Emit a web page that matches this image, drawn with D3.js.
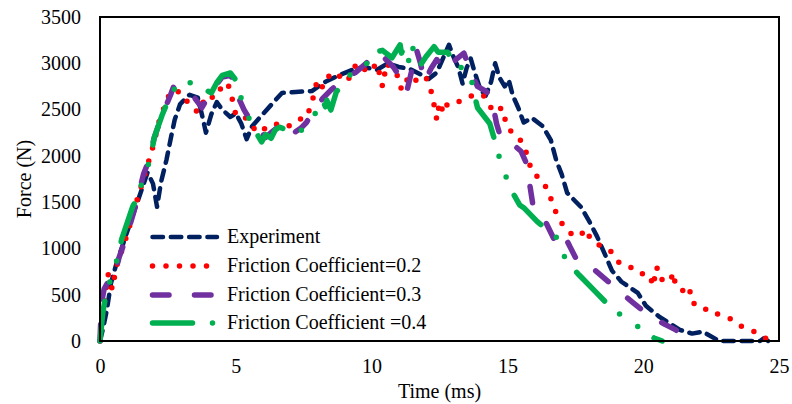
<!DOCTYPE html>
<html>
<head>
<meta charset="utf-8">
<script src="https://cdn.jsdelivr.net/npm/d3@7"></script>
<style>
  body { margin: 0; background: #fff; }
  text { font-family: "Liberation Serif", "Times New Roman", serif; fill: #000; }
</style>
</head>
<body>
<div id="chart"></div>
<script>
// data (time in ms, force in N)
var experiment = [
  [0,0],[0.1,120],[0.25,330],[0.4,620],[0.6,830],[1.0,1180],[1.4,1520],[1.75,1820],
  [1.95,1700],[2.1,1450],[2.25,1720],[2.45,1960],[2.6,2180],[2.75,2390],[2.95,2560],
  [3.3,2660],[3.6,2630],[3.75,2450],[3.9,2250],[4.1,2450],[4.3,2580],[4.5,2500],
  [4.8,2420],[5.0,2460],[5.2,2350],[5.4,2180],[5.6,2320],[5.9,2420],[6.3,2550],
  [6.7,2680],[7.2,2690],[7.8,2700],[8.3,2800],[8.8,2870],[9.3,2930],[9.7,2960],
  [10.2,2930],[10.6,3000],[11.0,2960],[11.4,2940],[11.8,2880],[12.1,2830],[12.4,2900],
  [12.7,3100],[12.85,3200],[13.0,3080],[13.2,2950],[13.35,2780],[13.5,2950],[13.65,3050],
  [13.8,2900],[14.0,2720],[14.2,2650],[14.4,2800],[14.55,3000],[14.7,2850],[14.9,2750],
  [15.05,2820],[15.2,2650],[15.4,2520],[15.6,2360],[15.9,2410],[16.3,2320],[16.6,2170],
  [16.8,1950],[17.0,1800],[17.2,1600],[17.7,1450],[18.0,1300],[18.3,1130],[18.6,930],
  [18.85,760],[19.2,640],[19.8,520],[20.1,380],[20.6,260],[21.35,120],[21.8,80],
  [22.2,100],[22.8,0],[23.5,0],[24.3,0],[24.45,30],[24.6,0]
];

var friction02 = [
  [0,0],[0.1,300],[0.3,720],[0.45,560],[0.6,800],[1.0,1150],[1.4,1560],[1.55,1700],
  [1.95,2100],[2.2,2400],[2.6,2700],[2.95,2690],[3.2,2590],[3.6,2470],[3.8,2580],
  [4.0,2660],[4.2,2620],[4.5,2750],[4.7,2790],[4.9,2580],[5.0,2440],[5.3,2430],
  [5.8,2250],[6.4,2350],[6.9,2310],[7.25,2390],[7.6,2410],[7.8,2570],[8.0,2820],
  [8.2,2740],[8.5,2900],[8.9,2850],[9.1,2800],[9.45,3000],[9.9,2900],[10.2,3000],
  [10.4,2750],[10.55,3000],[11.0,2850],[11.1,2710],[11.4,2870],[11.7,2800],[12.0,2850],
  [12.2,2690],[12.3,2550],[12.4,2390],[12.5,2580],[12.65,2460],[12.8,2570],[13.1,2580],
  [13.4,2600],[13.75,2660],[14.1,2660],[14.5,2470],[14.8,2520],[15.0,2300],[15.4,2200],
  [15.6,2120],[15.7,2030],[15.9,1830],[16.2,1750],[16.45,1650],[16.65,1500],[16.8,1380],
  [17.05,1250],[17.4,1145],[17.7,1135],[17.85,1210],[18.1,1090],[18.5,1015],[18.85,960],
  [19.1,850],[19.4,830],[19.8,735],[20.25,710],[20.36,590],[20.5,800],[20.6,670],
  [21.0,640],[21.1,740],[21.2,590],[21.6,520],[21.7,570],[21.8,410],[22.2,380],
  [22.4,310],[22.75,290],[23.2,240],[23.6,160],[24.1,100],[24.5,30],[24.95,0]
];

var friction03 = [
  [0,0],[0.05,400],[0.15,560],[0.3,640],[0.5,660],[0.7,900],[1.0,1150],[1.2,1350],
  [1.4,1560],[1.6,1800],[1.8,1950],[2.0,2200],[2.3,2450],[2.6,2660],[2.7,2740],
  [2.85,2700],[3.2,2620],[3.5,2620],[3.6,2580],[3.75,2520],[4.1,2700],[4.5,2850],
  [4.8,2870],[5.0,2780],[5.1,2630],[5.3,2500],[5.5,2400],[5.8,2300],[6.1,2200],
  [6.3,2250],[6.5,2300],[6.7,2360],[6.9,2300],[7.2,2260],[7.4,2300],[7.6,2360],
  [7.9,2500],[8.2,2620],[8.5,2710],[9.0,2830],[9.4,2900],[9.8,3000],[10.2,3120],
  [10.5,3050],[10.8,2960],[11.1,2830],[11.3,2700],[11.5,2950],[11.65,3150],[11.8,3000],
  [11.95,2800],[12.2,2950],[12.4,3040],[12.6,2960],[12.9,2940],[13.1,3040],[13.4,3110],
  [13.65,2900],[13.9,2750],[14.2,2700],[14.4,2650],[14.6,2350],[14.75,2200],[15.1,2150],
  [15.5,2050],[15.7,1920],[15.95,1450],[16.4,1290],[16.7,1110],[17.0,1200],[17.3,1020],
  [17.6,850],[18.2,770],[18.8,620],[19.1,540],[19.6,420],[20.2,280],[20.8,180],
  [21.2,120],[21.6,40],[21.9,0]
];

var friction04 = [
  [0,0],[0.1,300],[0.2,470],[0.35,630],[0.6,850],[0.8,1100],[1.2,1450],[1.4,1560],
  [1.6,1770],[1.85,1960],[2.0,2200],[2.3,2450],[2.6,2660],[3.0,2830],[3.4,2780],
  [3.7,2740],[4.1,2680],[4.3,2790],[4.5,2870],[4.8,2895],[5.0,2820],[5.05,2760],
  [5.3,2530],[5.6,2330],[5.8,2225],[5.95,2150],[6.1,2230],[6.3,2190],[6.45,2280],
  [6.6,2310],[6.9,2280],[7.3,2250],[7.6,2320],[7.8,2390],[8.0,2500],[8.2,2600],
  [8.3,2530],[8.35,2600],[8.5,2495],[8.7,2690],[9.1,2840],[9.45,2950],[9.75,2960],
  [9.9,3040],[10.0,3110],[10.4,3140],[10.75,3060],[11.05,3200],[11.1,3110],[11.2,3180],
  [11.4,3000],[11.5,3180],[11.65,3040],[11.8,2980],[12.0,3070],[12.3,3180],[12.45,3120],
  [12.8,3120],[13.1,2960],[13.55,2950],[13.7,2790],[13.8,2640],[13.9,2520],[14.35,2350],
  [14.6,2100],[14.8,1870],[15.0,1740],[15.2,1600],[15.45,1470],[15.6,1440],[16.1,1290],
  [16.8,1120],[17.05,1040],[17.1,910],[17.2,875],[17.4,790],[17.65,710],[18.25,530],
  [18.85,350],[19.6,190],[19.9,140],[20.15,86],[20.4,32],[20.7,0]
];

var xTicks = [0, 5, 10, 15, 20, 25];
var yTicks = [0, 500, 1000, 1500, 2000, 2500, 3000, 3500];

var seriesNames = ["Experiment", "Friction Coefficient=0.2", "Friction Coefficient=0.3", "Friction Coefficient =0.4"];
var seriesData = [experiment, friction02, friction03, friction04];
var seriesColors = ["#002060", "#ff0000", "#7030a0", "#00b050"];

// line styles per series
var styles = [
  { width: 4.5, dash: "10.5,7.8" },
  { width: 5.5, dash: "0,13.5" },
  { width: 5.5, dash: "16.5,25.5" },
  { width: 5.5, dash: "40,20,0,22,0,20" }
];

var fontSize = "20px";

var svgWidth = 792;
var svgHeight = 404;
var margin = { top: 17, right: 13, bottom: 63, left: 100 };
var width = svgWidth - margin.left - margin.right;
var height = svgHeight - margin.top - margin.bottom;

var svg = d3.select("#chart")
  .append("svg")
  .attr("width", svgWidth)
  .attr("height", svgHeight);

var chartGroup = svg.append("g")
  .attr("transform", `translate(${margin.left}, ${margin.top})`);

var xScale = d3.scaleLinear().domain([0, 25]).range([0, width]);
var yScale = d3.scaleLinear().domain([0, 3500]).range([height, 0]);

// axes (labels only, box drawn separately)
var yAxis = d3.axisLeft(yScale).tickValues(yTicks).tickFormat(d3.format("d")).tickSize(0).tickPadding(19);
var xAxis = d3.axisBottom(xScale).tickValues(xTicks).tickFormat(d3.format("d")).tickSize(0).tickPadding(18);

var gy = chartGroup.append("g").call(yAxis);
var gx = chartGroup.append("g").attr("transform", `translate(0, ${height})`).call(xAxis);
[gx, gy].forEach(function(g) {
  g.select(".domain").remove();
  g.selectAll("text")
    .attr("font-size", fontSize)
    .attr("font-family", "Liberation Serif, Times New Roman, serif")
    .attr("fill", "#000");
});

// series
var line = d3.line()
  .x(d => xScale(d[0]))
  .y(d => yScale(d[1]));

seriesData.forEach(function(data, i) {
  chartGroup.append("path")
    .datum(data)
    .attr("d", line)
    .attr("fill", "none")
    .attr("stroke", seriesColors[i])
    .attr("stroke-width", styles[i].width)
    .attr("stroke-dasharray", styles[i].dash)
    .attr("stroke-linecap", "round")
    .attr("stroke-linejoin", "round");
});

// plot area box
chartGroup.append("rect")
  .attr("x", 0)
  .attr("y", 0)
  .attr("width", width)
  .attr("height", height)
  .attr("fill", "none")
  .attr("stroke", "#000")
  .attr("stroke-width", 2);

// axis titles
chartGroup.append("text")
  .attr("transform", `translate(${xScale(12.5)}, ${height + 57})`)
  .attr("text-anchor", "middle")
  .attr("font-size", fontSize)
  .text("Time (ms)");

chartGroup.append("text")
  .attr("transform", `translate(${-margin.left + 31}, ${height / 2}) rotate(-90)`)
  .attr("text-anchor", "middle")
  .attr("font-size", fontSize)
  .text("Force (N)");

// legend
var legendRows = [237, 266, 295, 323];
var legend = svg.append("g");
seriesNames.forEach(function(name, i) {
  var y = legendRows[i];
  legend.append("line")
    .attr("x1", 152.5)
    .attr("x2", i === 1 ? 207 : 217)
    .attr("y1", y)
    .attr("y2", y)
    .attr("stroke", seriesColors[i])
    .attr("stroke-width", styles[i].width)
    .attr("stroke-dasharray", styles[i].dash)
    .attr("stroke-linecap", "round");
  legend.append("text")
    .attr("x", 227)
    .attr("y", y + 6)
    .attr("font-size", fontSize)
    .text(name);
});
</script>
</body>
</html>
